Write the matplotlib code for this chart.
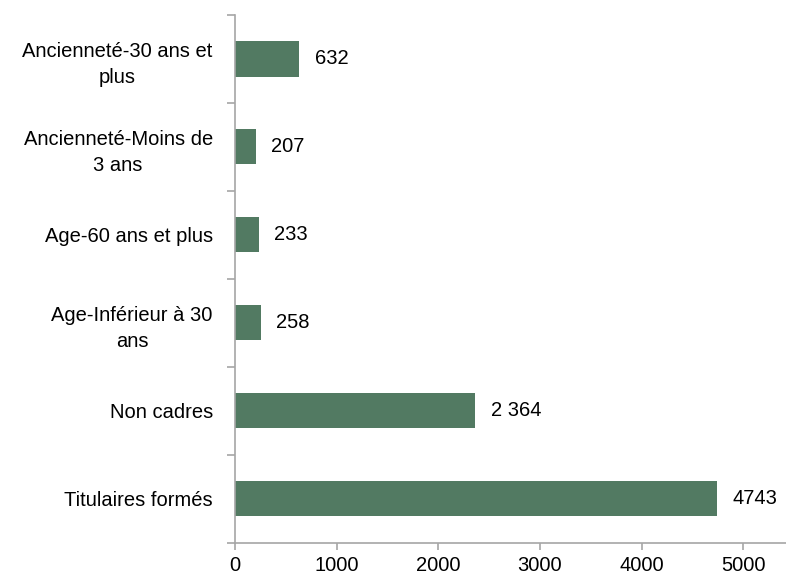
import matplotlib
matplotlib.use("Agg")
import matplotlib.pyplot as plt
import numpy as np

categories = [
    "Titulaires formés",
    "Non cadres",
    "Age-Inférieur à 30\nans",
    "Age-60 ans et plus",
    "Ancienneté-Moins de\n3 ans",
    "Ancienneté-30 ans et\nplus",
]
values = [4743, 2364, 258, 233, 207, 632]
value_labels = ["4743", "2 364", "258", "233", "207", "632"]

plt.rcParams["font.family"] = ["Liberation Sans", "DejaVu Sans"]

fig = plt.figure(figsize=(7.86, 5.76), dpi=100)
ax = fig.add_axes([0.299, 0.058, 0.701, 0.916])

bar_color = "#527a62"
axis_color = "#a6a6a6"
fs = 14.5
y = np.arange(len(categories))
ax.barh(y, values, height=0.4, color=bar_color)

for yi, v, s in zip(y, values, value_labels):
    ax.text(v + 150, yi, s, ha="left", va="center", fontsize=fs, color="black")

ax.set_xlim(0, 5420)
ax.set_ylim(-0.5, len(categories) - 0.5)

ax.set_yticks(y)
ax.set_yticklabels(categories, fontsize=fs)
for lbl in ax.get_yticklabels():
    lbl.set_multialignment("center")
    lbl.set_linespacing(1.45)
ax.set_yticks(np.arange(-0.5, len(categories)), minor=True)
ax.tick_params(axis="y", which="major", length=0, pad=16)
ax.tick_params(axis="y", which="minor", length=6, width=1.2, color=axis_color, direction="out")

ax.set_xticks([0, 1000, 2000, 3000, 4000, 5000])
ax.tick_params(axis="x", which="major", length=5, width=1.2, color=axis_color, labelsize=fs, pad=4.5)

for side in ["top", "right"]:
    ax.spines[side].set_visible(False)
for side in ["left", "bottom"]:
    ax.spines[side].set_color(axis_color)
    ax.spines[side].set_linewidth(1.2)

fig.savefig("out.png", dpi=100)
